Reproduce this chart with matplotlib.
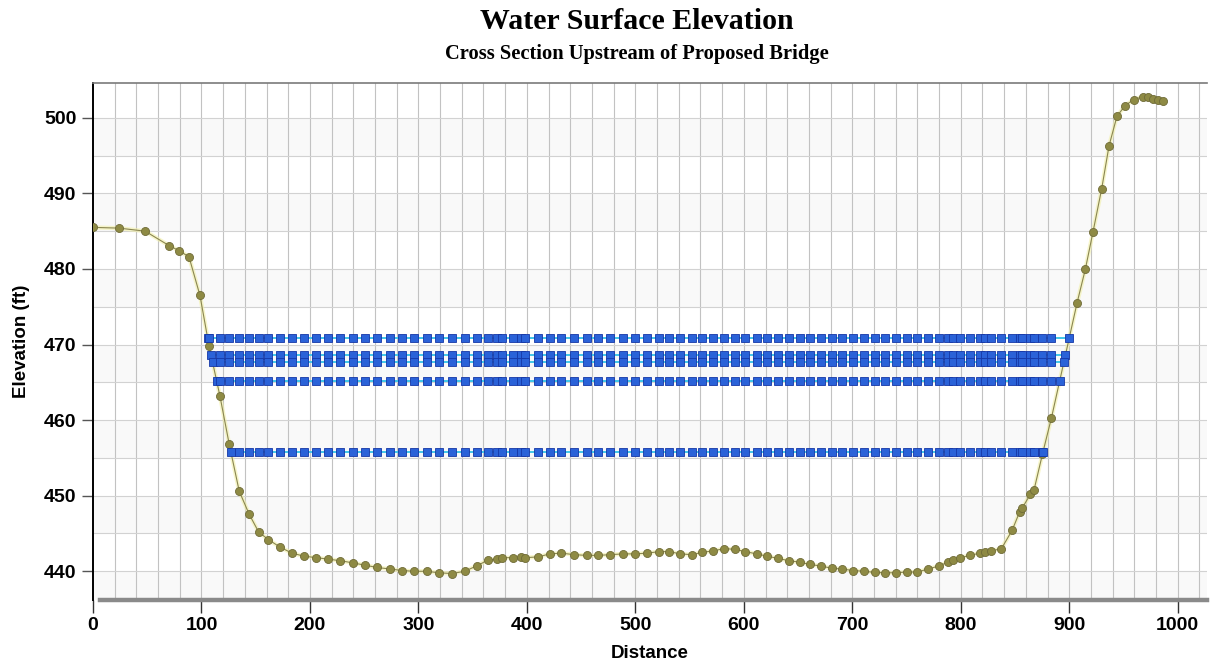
import numpy as np
import matplotlib
matplotlib.use("Agg")
import matplotlib.pyplot as plt

# ---------------- data ----------------
station = [0, 24, 48, 70, 79.5, 88.5, 98.6, 107, 117, 125.6, 134.8, 143.8, 152.7,
           161.6, 172.4, 183.4, 194.5, 206, 217, 228, 240, 251, 262, 274, 285, 296,
           307.5, 319, 331, 342.6, 353.6, 364.4, 372, 376.6, 387.4, 395, 398, 410.4,
           421, 431.8, 443.4, 455, 465.7, 477, 488.8, 499.5, 511, 522, 531, 541.6,
           551.8, 561.6, 571.7, 581.9, 591.7, 601.5, 611.7, 621.5, 631.6, 641.5,
           651.6, 661, 671, 681, 690.8, 700.4, 711, 720.5, 730.5, 740.5, 750, 759.7,
           770, 779.7, 788.3, 793, 799.7, 808.3, 817.5, 822, 828.3, 837.5, 847.3,
           854.4, 856.8, 864.2, 867.6, 875.3, 883.6, 907.2, 914.9, 921.9, 929.9,
           936.7, 944, 951.4, 959.4, 968, 972.6, 977.2, 981.8, 986.4]
ground = [485.5, 485.4, 485.0, 483.1, 482.4, 481.6, 476.5, 469.8, 463.2, 456.8, 450.6,
          447.6, 445.2, 444.2, 443.2, 442.4, 442.0, 441.8, 441.6, 441.4, 441.1, 440.8,
          440.5, 440.3, 440.1, 440.0, 440.0, 439.8, 439.7, 440.0, 440.7, 441.5, 441.6,
          441.8, 441.8, 441.9, 441.8, 441.9, 442.3, 442.4, 442.2, 442.1, 442.1, 442.2,
          442.3, 442.3, 442.4, 442.6, 442.6, 442.3, 442.2, 442.5, 442.7, 443.0, 442.9,
          442.6, 442.3, 442.0, 441.7, 441.4, 441.2, 440.9, 440.7, 440.4, 440.3, 440.1,
          440.0, 439.85, 439.8, 439.8, 439.9, 439.9, 440.3, 440.7, 441.2, 441.5, 441.8,
          442.1, 442.4, 442.5, 442.7, 443.0, 445.4, 447.9, 448.4, 450.2, 450.8, 455.5,
          460.3, 475.5, 480.0, 484.9, 490.6, 496.3, 500.2, 501.6, 502.4, 502.8, 502.7,
          502.5, 502.3, 502.2]
ws_levels = [470.9, 468.6, 467.7, 465.2, 455.8]

x_ticks = [0, 100, 200, 300, 400, 500, 600, 700, 800, 900, 1000]
y_ticks = [440, 450, 460, 470, 480, 490, 500]

title = "Water Surface Elevation"
subtitle = "Cross Section Upstream of Proposed Bridge"
xlabel = "Distance"
ylabel = "Elevation (ft)"

# ---------------- helpers ----------------
xs = np.array(station, dtype=float)
zs = np.array(ground, dtype=float)


def wet_profile(level):
    below = np.where(zs < level)[0]
    i0, i1 = below[0], below[-1]
    xl = np.interp(level, [zs[i0], zs[i0 - 1]], [xs[i0], xs[i0 - 1]])
    xr = np.interp(level, [zs[i1], zs[i1 + 1]], [xs[i1], xs[i1 + 1]])
    px = np.concatenate([[xl], xs[i0:i1 + 1], [xr]])
    return px, np.full_like(px, level)


# ---------------- figure ----------------
W, H = 1211, 660
fig = plt.figure(figsize=(W / 100, H / 100), dpi=100)
fig.patch.set_facecolor("white")

ax_l, ax_r, ax_t, ax_b = 93, 1207, 83, 600
ax = fig.add_axes([ax_l / W, 1 - ax_b / H, (ax_r - ax_l) / W, (ax_b - ax_t) / H])

xmin, xmax = 0, 1027
ymin, ymax = 436.2, 504.6
ax.set_xlim(xmin, xmax)
ax.set_ylim(ymin, ymax)
ax.set_facecolor("white")

# very subtle bands
for k, y0 in enumerate(np.arange(435, 505, 5)):
    if k % 2 == 0:
        ax.axhspan(y0, y0 + 5, color="#f9f9f9", zorder=0, lw=0)

# grid
for gx in np.arange(20, 1027, 20):
    ax.axvline(gx, color="#c2c2c2", lw=0.8, zorder=1)
for gy in np.arange(440, 505, 5):
    ax.axhline(gy, color="#d2d2d2", lw=0.8, zorder=1)

# ground line
ax.plot(xs, zs, color="#f2f0a8", lw=3.0, alpha=0.6, zorder=2, solid_capstyle="round")
ax.plot(xs, zs, color="#8a8650", lw=0.8, zorder=3)
ax.plot(xs, zs, ls="none", marker="o", ms=5.8, mfc="#8e8a44", mec="#6f6b38",
        mew=0.6, zorder=4)

# water surfaces
for lev in ws_levels:
    px, py = wet_profile(lev)
    ax.plot(px, py, color="#3fc6ea", lw=1.4, zorder=5)
    ax.plot(px, py, ls="none", marker="s", ms=5.3, mfc="#2a62d8", mec="#1537a6",
            mew=0.6, zorder=6)

# spines
for s in ["top", "right"]:
    ax.spines[s].set_visible(False)
ax.plot([0, 1], [1, 1], transform=ax.transAxes, color="#7a7a7a", lw=1.2,
        clip_on=False, zorder=7)
ax.spines["left"].set_color("black")
ax.spines["left"].set_linewidth(1.4)
ax.spines["bottom"].set_color("#8a8a8a")
ax.spines["bottom"].set_linewidth(3.2)
ax.spines["bottom"].set_bounds(6, xmax)

ax.set_xticks(x_ticks)
ax.set_yticks(y_ticks)
ax.set_xticklabels([str(v) for v in x_ticks])
ax.set_yticklabels([str(v) for v in y_ticks])
ax.tick_params(axis="x", direction="out", length=9, width=1.0, color="#333333",
               pad=3, labelsize=14)
ax.tick_params(axis="y", direction="out", length=8, width=1.0, color="#555555",
               pad=4, labelsize=14)
for lab in ax.get_xticklabels() + ax.get_yticklabels():
    lab.set_fontweight("bold")
    lab.set_family("Liberation Sans")

ax.set_xlabel(xlabel, fontsize=13.5, fontweight="bold", family="Liberation Sans",
              labelpad=8)
ax.set_ylabel(ylabel, fontsize=13.5, fontweight="bold", family="Liberation Sans",
              labelpad=10)

cx = (ax_l + ax_r) / 2 / W
fig.text(cx - 0.011, 1 - 29 / H, title, ha="center", va="baseline",
         fontsize=21.5, fontweight="bold", family="Liberation Serif")
fig.text(cx - 0.011, 1 - 59 / H, subtitle, ha="center", va="baseline",
         fontsize=14.8, fontweight="bold", family="Liberation Serif")

fig.savefig("out.png", dpi=100, facecolor="white")
